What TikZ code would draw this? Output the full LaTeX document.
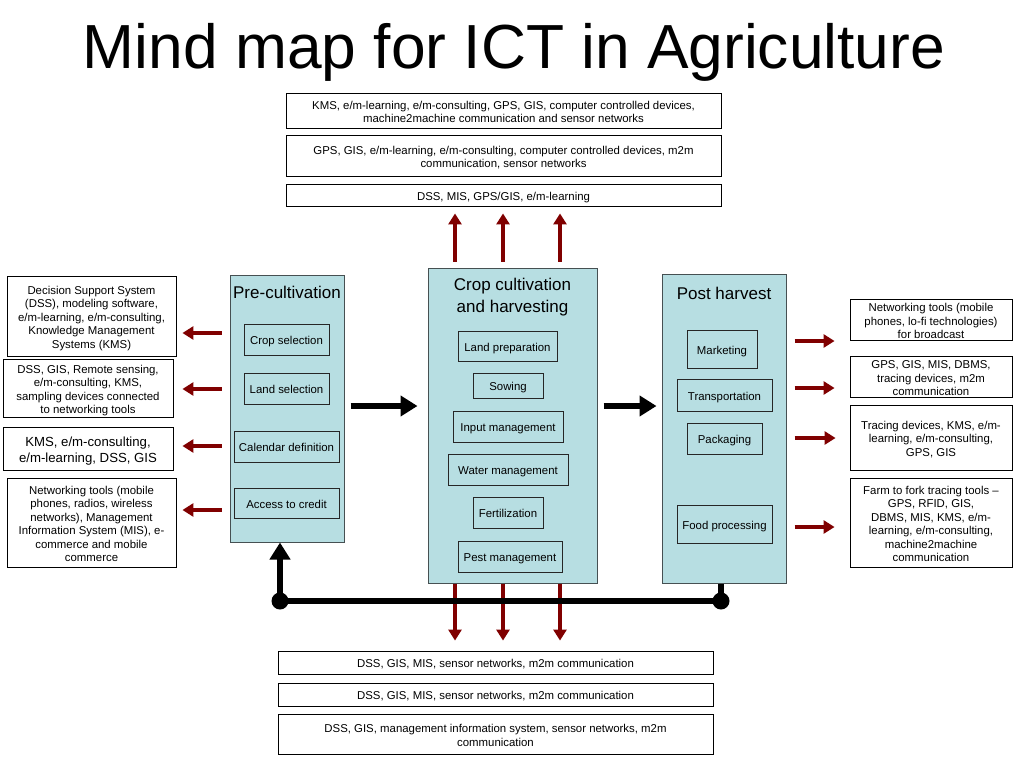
\documentclass[tikz,border=0pt]{standalone}
\usepackage{fontspec}
\setmainfont{Liberation Sans}
\usetikzlibrary{arrows.meta}
\definecolor{panelfill}{RGB}{183,222,226}
\definecolor{panelline}{RGB}{70,80,82}
\definecolor{arrowred}{RGB}{128,0,0}
\newcommand\mltext[1]{\raisebox{-2.75pt}[\height][\depth]{\begin{tabular}{@{}c@{}}#1\end{tabular}}}
\begin{document}
\begin{tikzpicture}[x=1pt,y=-1pt,
  txt/.style={font=\fontsize{11.4}{13.5}\selectfont},
  obox/.style={draw=black,line width=0.9pt,fill=white,inner sep=0pt,txt},
  ibox/.style={draw=black!85,line width=0.9pt,inner sep=0pt,txt},
  panel/.style={draw=panelline,line width=1pt,fill=panelfill,inner sep=0pt},
  ptitle/.style={align=center,inner sep=0pt,font=\fontsize{17}{22}\selectfont},
  redarrow/.style={draw=arrowred,line width=4pt,-{Triangle[width=13pt,length=11pt]}},
  blackarrow/.style={draw=black,line width=6pt,-{Triangle[width=20pt,length=17pt]}},
  feed/.style={draw=black,line width=6pt}
]
\useasboundingbox (0,0) rectangle (1024,768);
\fill[white] (0,0) rectangle (1024,768);

% title
\node[inner sep=0pt,font=\fontsize{62.3}{70}\selectfont] (title) at (514,52) {Mind map for ICT in Agriculture};

% top boxes
\node[obox,minimum width=435pt,minimum height=35pt] (t1) at (503.5,110.5) {\mltext{KMS, e/m-learning, e/m-consulting, GPS, GIS, computer controlled devices,\\machine2machine communication and sensor networks}};
\node[obox,minimum width=435pt,minimum height=41pt] (t2) at (503.5,155.5) {\mltext{GPS, GIS, e/m-learning, e/m-consulting, computer controlled devices, m2m\\communication, sensor networks}};
\node[obox,minimum width=435pt,minimum height=22pt] (t3) at (503.5,195) {\mltext{DSS, MIS, GPS/GIS, e/m-learning}};

% left boxes
\node[obox,minimum width=169pt,minimum height=80pt] (l1) at (91.5,316) {\mltext{Decision Support System\\(DSS), modeling software,\\e/m-learning, e/m-consulting,\\Knowledge Management\\Systems (KMS)}};
\node[obox,minimum width=170pt,minimum height=58pt] (l2) at (88,388) {\mltext{DSS, GIS, Remote sensing,\\e/m-consulting, KMS,\\sampling devices connected\\to networking tools}};
\node[obox,minimum width=170pt,minimum height=43pt,font=\fontsize{13.2}{15.5}\selectfont] (l3) at (88,448.5) {\mltext{KMS, e/m-consulting,\\e/m-learning, DSS, GIS}};
\node[obox,minimum width=169pt,minimum height=89pt] (l4) at (91.5,522.5) {\mltext{Networking tools (mobile\\phones, radios, wireless\\networks), Management\\Information System (MIS), e-\\commerce and mobile\\commerce}};

% right boxes
\node[obox,minimum width=162pt,minimum height=40pt] (r1) at (931,320) {\mltext{Networking tools (mobile\\phones, lo-fi technologies)\\for broadcast}};
\node[obox,minimum width=162pt,minimum height=40pt] (r2) at (931,377) {\mltext{GPS, GIS, MIS, DBMS,\\tracing devices, m2m\\communication}};
\node[obox,minimum width=162pt,minimum height=65pt] (r3) at (931,437.5) {\mltext{Tracing devices, KMS, e/m-\\learning, e/m-consulting,\\GPS, GIS}};
\node[obox,minimum width=162pt,minimum height=89pt] (r4) at (931,522.5) {\mltext{Farm to fork tracing tools --\\GPS, RFID, GIS,\\DBMS, MIS, KMS, e/m-\\learning, e/m-consulting,\\machine2machine\\communication}};

% bottom boxes
\node[obox,minimum width=435pt,minimum height=23pt] (b1) at (495.5,662.5) {\mltext{DSS, GIS, MIS, sensor networks, m2m communication}};
\node[obox,minimum width=435pt,minimum height=23pt] (b2) at (495.5,694.5) {\mltext{DSS, GIS, MIS, sensor networks, m2m communication}};
\node[obox,minimum width=435pt,minimum height=40pt] (b3) at (495.5,734) {\mltext{DSS, GIS, management information system, sensor networks, m2m\\communication}};

% panels
\node[panel,minimum width=114pt,minimum height=267pt] (pre) at (287,408.5) {};
\node[panel,minimum width=169pt,minimum height=315pt] (crop) at (512.5,425.5) {};
\node[panel,minimum width=124pt,minimum height=309pt] (post) at (724,428.5) {};

\node[ptitle] (pretitle) at (287,292) {Pre-cultivation};
\node[ptitle] (croptitle) at (512.5,297) {Crop cultivation\\and harvesting};
\node[ptitle] (posttitle) at (724,293) {Post harvest};

% inner boxes
\node[ibox,minimum width=85pt,minimum height=31pt] (cs) at (286.5,339.5) {\mltext{Crop selection}};
\node[ibox,minimum width=85pt,minimum height=31pt] (ls) at (286.5,388.5) {\mltext{Land selection}};
\node[ibox,minimum width=105pt,minimum height=31pt] (cd) at (286.5,446.5) {\mltext{Calendar definition}};
\node[ibox,minimum width=105pt,minimum height=30pt] (ac) at (286.5,503) {\mltext{Access to credit}};

\node[ibox,minimum width=99pt,minimum height=30pt] (lp) at (507.5,346) {\mltext{Land preparation}};
\node[ibox,minimum width=70pt,minimum height=25pt] (sw) at (508,385.5) {\mltext{Sowing}};
\node[ibox,minimum width=110pt,minimum height=31pt] (im) at (508,426.5) {\mltext{Input management}};
\node[ibox,minimum width=120pt,minimum height=31pt] (wm) at (508,469.5) {\mltext{Water management}};
\node[ibox,minimum width=70pt,minimum height=31pt] (fe) at (508,512.5) {\mltext{Fertilization}};
\node[ibox,minimum width=104pt,minimum height=31pt] (pm) at (510,556.5) {\mltext{Pest management}};

\node[ibox,minimum width=70pt,minimum height=38pt] (mk) at (722,349) {\mltext{Marketing}};
\node[ibox,minimum width=95pt,minimum height=32pt] (tr) at (724.5,395) {\mltext{Transportation}};
\node[ibox,minimum width=75pt,minimum height=31pt] (pk) at (724.5,438.5) {\mltext{Packaging}};
\node[ibox,minimum width=95pt,minimum height=38pt] (fp) at (724.5,524) {\mltext{Food processing}};

% helper coordinates
\coordinate (ux1) at (455,0);
\coordinate (ux2) at (503,0);
\coordinate (ux3) at (560,0);
\coordinate (ly1) at (0,333);
\coordinate (ly2) at (0,389);
\coordinate (ly3) at (0,446);
\coordinate (ly4) at (0,510);
\coordinate (ry1) at (0,341);
\coordinate (ry2) at (0,388);
\coordinate (ry3) at (0,438);
\coordinate (ry4) at (0,527);
\coordinate (my) at (0,406);
\coordinate (d1) at (280,601);
\coordinate (d2) at (721,601);

% up arrows
\foreach \c in {ux1,ux2,ux3}
  \draw[redarrow,shorten <=6pt,shorten >=7pt] (crop.north -| \c) -- (t3.south -| \c);
% down arrows
\foreach \c in {ux1,ux2,ux3}
  \draw[redarrow,shorten <=0pt,shorten >=10pt] (crop.south -| \c) -- (b1.north -| \c);

% left arrows
\draw[redarrow,shorten <=8pt,shorten >=6pt] (pre.west |- ly1) -- (l1.east |- ly1);
\draw[redarrow,shorten <=8pt,shorten >=9pt] (pre.west |- ly2) -- (l2.east |- ly2);
\draw[redarrow,shorten <=8pt,shorten >=9pt] (pre.west |- ly3) -- (l3.east |- ly3);
\draw[redarrow,shorten <=8pt,shorten >=6pt] (pre.west |- ly4) -- (l4.east |- ly4);

% right arrows
\draw[redarrow,shorten <=8pt,shorten >=15pt] (post.east |- ry1) -- (r1.west |- ry1);
\draw[redarrow,shorten <=8pt,shorten >=15pt] (post.east |- ry2) -- (r2.west |- ry2);
\draw[redarrow,shorten <=8pt,shorten >=14pt] (post.east |- ry3) -- (r3.west |- ry3);
\draw[redarrow,shorten <=8pt,shorten >=15pt] (post.east |- ry4) -- (r4.west |- ry4);

% black flow arrows
\draw[blackarrow,shorten <=6pt,shorten >=10pt] (pre.east |- my) -- (crop.west |- my);
\draw[blackarrow,shorten <=6pt,shorten >=5pt] (crop.east |- my) -- (post.west |- my);

% feedback loop
\draw[feed] (post.south -| d2) -- (d2) -- (d1);
\draw[blackarrow] (d1) -- (pre.south -| d1);
\fill[black] (d1) circle (8.5);
\fill[black] (d2) circle (8.5);
\end{tikzpicture}
\end{document}
